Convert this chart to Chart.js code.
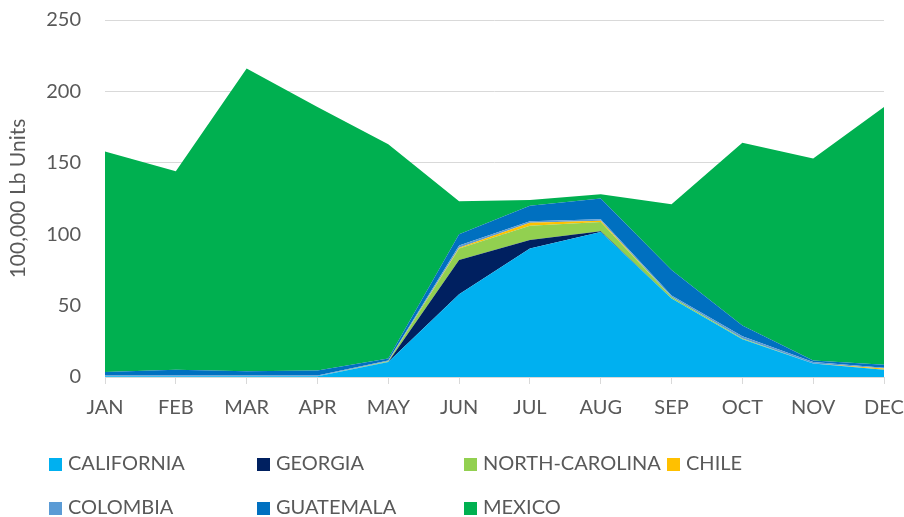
<!DOCTYPE html>
<html>
<head>
<meta charset="utf-8">
<script src="https://cdn.jsdelivr.net/npm/chart.js@4/dist/chart.umd.min.js"></script>
<style>
  html, body { margin: 0; padding: 0; background: #fff; }
  #wrap { position: relative; width: 904px; height: 517px; }
  #legend { position: absolute; left: 0; top: 0; width: 904px; height: 517px; pointer-events: none;
    font-family: Lato, 'Open Sans', sans-serif; font-size: 20px; color: #595959; }
  .item { position: absolute; white-space: nowrap; line-height: 22px; }
  .box { display: inline-block; width: 13px; height: 13px; margin-right: 6px; vertical-align: -1px; }
</style>
</head>
<body>
<div id="wrap">
  <canvas id="areaChart" width="904" height="517"></canvas>
  <div id="legend"></div>
</div>
<script>
  const months = ['JAN', 'FEB', 'MAR', 'APR', 'MAY', 'JUN', 'JUL', 'AUG', 'SEP', 'OCT', 'NOV', 'DEC'];
  const yTicks = [0, 50, 100, 150, 200, 250];

  const california = [0.5, 0.5, 0.5, 0.5, 10.5, 58, 90, 101.5, 55, 26.5, 9.5, 5];
  const georgia = [0, 0, 0, 0, 0, 24, 6, 0.5, 0, 0, 0, 0];
  const northCarolina = [0, 0, 0, 0, 0.5, 8, 10, 6.5, 1, 0.5, 0, 0];
  const chile = [0, 0, 0, 0, 0, 0.5, 2, 1, 0, 0, 0, 1];
  const colombia = [0.5, 0.5, 0.5, 0.5, 0.5, 1.5, 1, 1, 1, 1.5, 1, 0.5];
  const guatemala = [2.5, 4, 3, 3.5, 1.5, 8, 11, 14.5, 18, 7.5, 1, 2];
  const mexico = [154.5, 139, 212, 184.5, 150, 23, 4, 3, 46, 128, 141.5, 180.5];

  const series = [
    { label: 'CALIFORNIA', data: california, color: '#00B0F0' },
    { label: 'GEORGIA', data: georgia, color: '#002060' },
    { label: 'NORTH-CAROLINA', data: northCarolina, color: '#92D050' },
    { label: 'CHILE', data: chile, color: '#FFC000' },
    { label: 'COLOMBIA', data: colombia, color: '#5B9BD5' },
    { label: 'GUATEMALA', data: guatemala, color: '#0070C0' },
    { label: 'MEXICO', data: mexico, color: '#00B050' }
  ];

  const fontFamily = "Lato, 'Open Sans', sans-serif";
  const textColor = '#595959';
  const gridColor = '#d9d9d9';

  // legend laid out in a grid like the original
  const legendCols = [49, 257, 464, 667];
  const legendRows = [451, 495];
  const legendEl = document.getElementById('legend');
  series.forEach(function (s, i) {
    const div = document.createElement('div');
    div.className = 'item';
    div.style.left = legendCols[i % 4] + 'px';
    div.style.top = legendRows[Math.floor(i / 4)] + 'px';
    div.innerHTML = '<span class="box" style="background:' + s.color + '"></span>' + s.label;
    legendEl.appendChild(div);
  });

  new Chart(document.getElementById('areaChart'), {
    type: 'line',
    data: {
      labels: months,
      datasets: series.map(function (s, i) {
        return {
          label: s.label,
          data: s.data,
          backgroundColor: s.color,
          borderColor: s.color,
          borderWidth: 0,
          pointRadius: 0,
          tension: 0,
          fill: i === 0 ? 'origin' : '-1'
        };
      })
    },
    options: {
      responsive: false,
      animation: false,
      layout: { padding: { top: 20, right: 20, bottom: 0, left: 6 } },
      plugins: { legend: { display: false }, tooltip: { enabled: false } },
      scales: {
        x: {
          offset: false,
          grid: { display: true, drawOnChartArea: false, drawTicks: true, tickLength: 7, color: gridColor },
          border: { color: gridColor, width: 1 },
          ticks: { color: textColor, font: { family: fontFamily, size: 20 }, padding: 12, maxRotation: 0 },
          afterFit: function (axis) {
            axis.height = 140;
            axis.paddingLeft = 0;
            axis.paddingRight = 0;
          }
        },
        y: {
          stacked: true,
          min: 0,
          max: 250,
          afterBuildTicks: function (axis) {
            axis.ticks = yTicks.map(function (v) { return { value: v }; });
          },
          grid: { color: gridColor, drawTicks: false },
          border: { display: false },
          ticks: { color: textColor, font: { family: fontFamily, size: 20 }, padding: 24 },
          title: { display: true, text: '100,000 Lb Units', color: textColor, font: { family: fontFamily, size: 21 }, padding: 0 },
          afterFit: function (axis) {
            axis.width = 99;
            axis.paddingTop = 0;
            axis.paddingBottom = 0;
          }
        }
      }
    }
  });
</script>
</body>
</html>
